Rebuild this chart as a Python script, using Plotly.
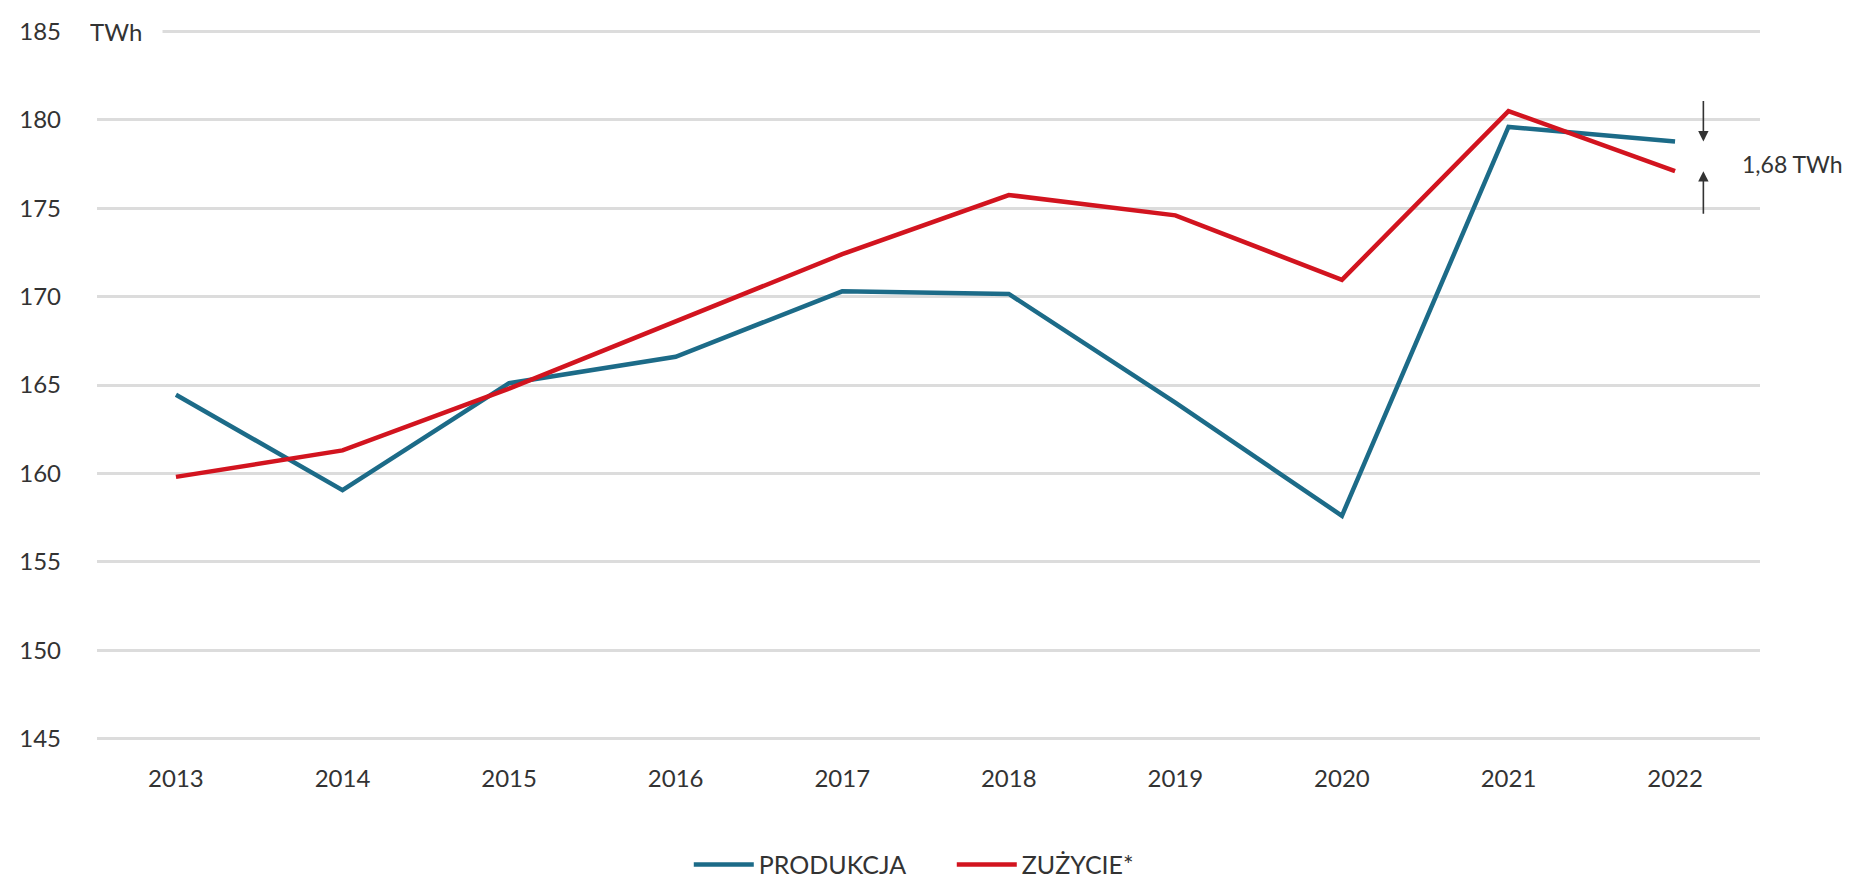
import plotly.graph_objects as go

# Roczne wartości energii elektrycznej w Polsce (TWh)
years = [2013, 2014, 2015, 2016, 2017, 2018, 2019, 2020, 2021, 2022]
produkcja = [164.45, 159.05, 165.1, 166.6, 170.3, 170.15, 164.0, 157.6, 179.6, 178.78]
zuzycie = [159.8, 161.3, 164.8, 168.6, 172.4, 175.75, 174.6, 170.95, 180.5, 177.10]

y_ticks = [145, 150, 155, 160, 165, 170, 175, 180, 185]

BLUE = "#1c6b88"
RED = "#d2141f"
TEXT = "#333333"
FONT = "Lato, 'Open Sans', sans-serif"

fig = go.Figure()
fig.add_trace(go.Scatter(
    x=years, y=produkcja, mode="lines", name="PRODUKCJA",
    line=dict(color=BLUE, width=4.5),
))
fig.add_trace(go.Scatter(
    x=years, y=zuzycie, mode="lines", name="ZUŻYCIE*",
    line=dict(color=RED, width=4.5),
))

gap = round(produkcja[-1] - zuzycie[-1], 2)
gap_label = f"{gap:.2f}".replace(".", ",") + " TWh"
last = years[-1]

annotations = [
    # jednostka przy górnej linii siatki
    dict(text="TWh", xref="paper", yref="y", x=-0.005, y=185,
         xanchor="left", yanchor="middle", showarrow=False,
         width=72, align="left", bgcolor="white", borderpad=0,
         font=dict(family=FONT, size=24, color=TEXT)),
    # strzałki wskazujące różnicę w ostatnim roku
    dict(x=last + 0.17, y=produkcja[-1], xref="x", yref="y",
         ax=0, ay=-42, showarrow=True, arrowhead=2, arrowsize=1.3,
         arrowwidth=1.6, arrowcolor="#333333", text=""),
    dict(x=last + 0.17, y=zuzycie[-1], xref="x", yref="y",
         ax=0, ay=44, showarrow=True, arrowhead=2, arrowsize=1.3,
         arrowwidth=1.6, arrowcolor="#333333", text=""),
    dict(x=last + 0.39, y=(produkcja[-1] + zuzycie[-1]) / 2 - 0.45,
         xref="x", yref="y", xanchor="left", yanchor="middle",
         showarrow=False, text=gap_label,
         font=dict(family=FONT, size=23, color=TEXT)),
]

fig.update_layout(
    width=1849, height=882,
    margin=dict(l=97, r=89, t=28, b=140, autoexpand=False),
    paper_bgcolor="white", plot_bgcolor="white",
    font=dict(family=FONT, size=24, color=TEXT),
    showlegend=True,
    legend=dict(orientation="h", x=0.514, xanchor="center",
                y=-0.172, yanchor="middle",
                font=dict(family=FONT, size=25, color=TEXT),
                itemwidth=60, entrywidth=188),
    annotations=annotations,
)
fig.update_xaxes(
    range=[2012.526, 2022.51], tickmode="array", tickvals=years,
    ticktext=[str(y) for y in years], showgrid=False, zeroline=False,
    showline=False, ticks="", ticklabelstandoff=20,
    tickfont=dict(family=FONT, size=24, color=TEXT),
)
fig.update_yaxes(
    range=[144.8, 185.2], tickmode="array", tickvals=y_ticks,
    showgrid=True, gridcolor="#dcdcdc", gridwidth=2.5, zeroline=False,
    showline=False, ticks="", ticklabelstandoff=35,
    tickfont=dict(family=FONT, size=24, color=TEXT),
)

fig.write_html("out.html")
